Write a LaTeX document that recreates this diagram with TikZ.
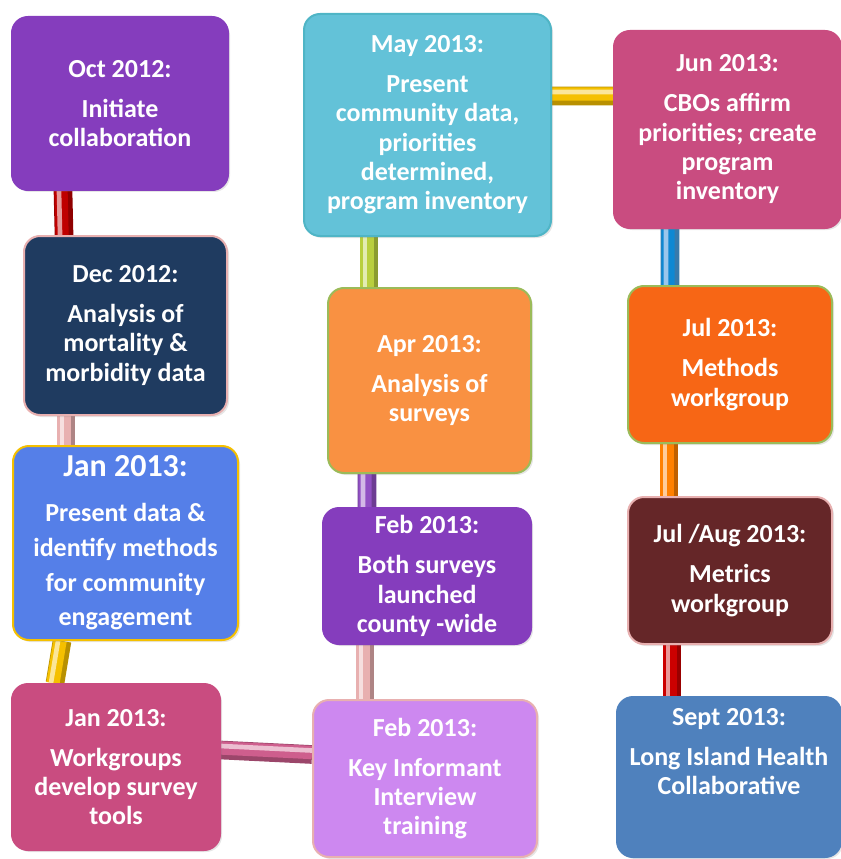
\documentclass[tikz,border=0pt]{standalone}
\usepackage{fontspec}
\setmainfont{Carlito}
\usetikzlibrary{backgrounds,shadows}
\definecolor{plum}{HTML}{853DBD}
\definecolor{navy}{HTML}{1F3B60}
\definecolor{cornflower}{HTML}{557FE8}
\definecolor{rasp}{HTML}{C94C80}
\definecolor{lilac}{HTML}{CD88F0}
\definecolor{apricot}{HTML}{F99142}
\definecolor{aqua}{HTML}{63C2D8}
\definecolor{pumpkin}{HTML}{F76615}
\definecolor{maroon}{HTML}{652628}
\definecolor{steel}{HTML}{4F81BD}
\definecolor{blush}{HTML}{E8B0B0}
\definecolor{leaf}{HTML}{9BBB59}
\definecolor{gold}{HTML}{F5C000}
\newcommand{\stagetext}[2]{#1\\[8pt]#2}

\begin{document}
\begin{tikzpicture}[x=0.75pt,y=-0.75pt,
    stage/.style={rounded corners=12pt, inner sep=0pt, align=center, text=white,
      font=\fontsize{19.5}{22}\selectfont\bfseries, fill=#1, draw=#1, line width=1.5pt,
      drop shadow={opacity=0.2, shadow xshift=1.5pt, shadow yshift=-1.5pt}},
    vtube/.style={line width=14pt, draw=#1!75!black,
      postaction={draw=#1, line width=10pt, transform canvas={xshift=-1.5pt}},
      postaction={draw=#1!40!white, line width=3.5pt, transform canvas={xshift=-3pt}}},
    htube/.style={line width=14pt, draw=#1!75!black,
      postaction={draw=#1, line width=10pt, transform canvas={yshift=1.5pt}},
      postaction={draw=#1!40!white, line width=3.5pt, transform canvas={yshift=3pt}}}]
  \useasboundingbox (0,0) rectangle (841,859);
  % left column
  \node[stage=plum, minimum width=162pt, minimum height=129.75pt] (oct) at (120,103.5)
    {\stagetext{Oct 2012:}{Initiate\\collaboration}};
  \node[stage=navy, draw=blush, minimum width=152.25pt, minimum height=134.25pt] (dec) at (125.5,325.5)
    {\stagetext{Dec 2012:}{Analysis of\\mortality \&\\morbidity data}};
  \node[stage=cornflower, draw=gold, minimum width=168.75pt, minimum height=145.5pt,
    font=\fontsize{19.5}{26}\selectfont\bfseries] (jan) at (125.5,543)
    {{\fontsize{24}{26}\selectfont Jan 2013:}\\[8pt]Present data \&\\identify methods\\for community\\engagement};
  \node[stage=rasp, minimum width=156pt, minimum height=124.5pt] (wkg) at (116,767)
    {\stagetext{Jan 2013:}{Workgroups\\develop survey\\tools}};
  % middle column
  \node[stage=lilac, draw=blush, minimum width=168pt, minimum height=117.75pt] (kii) at (425,778.5)
    {\stagetext{Feb 2013:}{Key Informant\\Interview\\training}};
  \node[stage=plum, minimum width=156pt, minimum height=102pt] (svy) at (427,576)
    {\stagetext{Feb 2013:}{Both surveys\\launched\\county -wide}};
  \node[stage=apricot, draw=leaf, minimum width=152.25pt, minimum height=138.75pt] (apr) at (429.5,380.5)
    {\stagetext{Apr 2013:}{Analysis of\\surveys}};
  \node[stage=aqua, draw=aqua!80!teal, minimum width=185.25pt, minimum height=166.5pt] (may) at (427.5,125)
    {\stagetext{May 2013:}{Present\\community data,\\priorities\\determined,\\program inventory}};
  % right column
  \node[stage=rasp, minimum width=170.25pt, minimum height=147.75pt] (jun) at (727.5,129.5)
    {\stagetext{Jun 2013:}{CBOs affirm\\priorities; create\\program\\inventory}};
  \node[stage=pumpkin, draw=leaf, minimum width=153pt, minimum height=117.75pt] (jul) at (730,364.5)
    {\stagetext{Jul 2013:}{Methods\\workgroup}};
  \node[stage=maroon, draw=blush, minimum width=153pt, minimum height=110.25pt] (met) at (730,570.5)
    {\stagetext{Jul /Aug 2013:}{Metrics\\workgroup}};
  \node[stage=steel, minimum width=168pt, minimum height=120pt, text depth=38pt] (sep) at (729,777)
    {\stagetext{Sept 2013:}{Long Island Health\\Collaborative}};
  % tubes
  \begin{scope}[on background layer]
    \draw[vtube={red!75!black}] ([xshift=-42.75pt]oct.south) -- ([xshift=-46.1pt]dec.north);
    \draw[vtube={blush}] ([xshift=-44.6pt]dec.south) -- ([xshift=-44.6pt]jan.north);
    \draw[vtube={gold}] ([xshift=-47.6pt]jan.south) -- ([xshift=-45.75pt]wkg.north);
    \draw[htube={rasp!90!white}] ([yshift=12.75pt]wkg.east) -- ([yshift=18pt]kii.west);
    \draw[vtube={blush}] ([xshift=-45pt]kii.north) -- ([xshift=-46.5pt]svy.south);
    \draw[vtube={plum!90!white}] ([xshift=-45pt]svy.north) -- ([xshift=-46.9pt]apr.south);
    \draw[vtube={leaf!70!yellow}] ([xshift=-45.4pt]apr.north) -- ([xshift=-43.9pt]may.south);
    \draw[htube={gold}] ([yshift=21.75pt]may.east) -- ([yshift=25.1pt]jun.west);
    \draw[vtube={cyan!70!blue}] ([xshift=-43.1pt]jun.south) -- ([xshift=-45pt]jul.north);
    \draw[vtube={orange}] ([xshift=-45.75pt]jul.south) -- ([xshift=-45.75pt]met.north);
    \draw[vtube={red!80!black}] ([xshift=-43.5pt]met.south) -- ([xshift=-42.75pt]sep.north);
  \end{scope}
\end{tikzpicture}
\end{document}
